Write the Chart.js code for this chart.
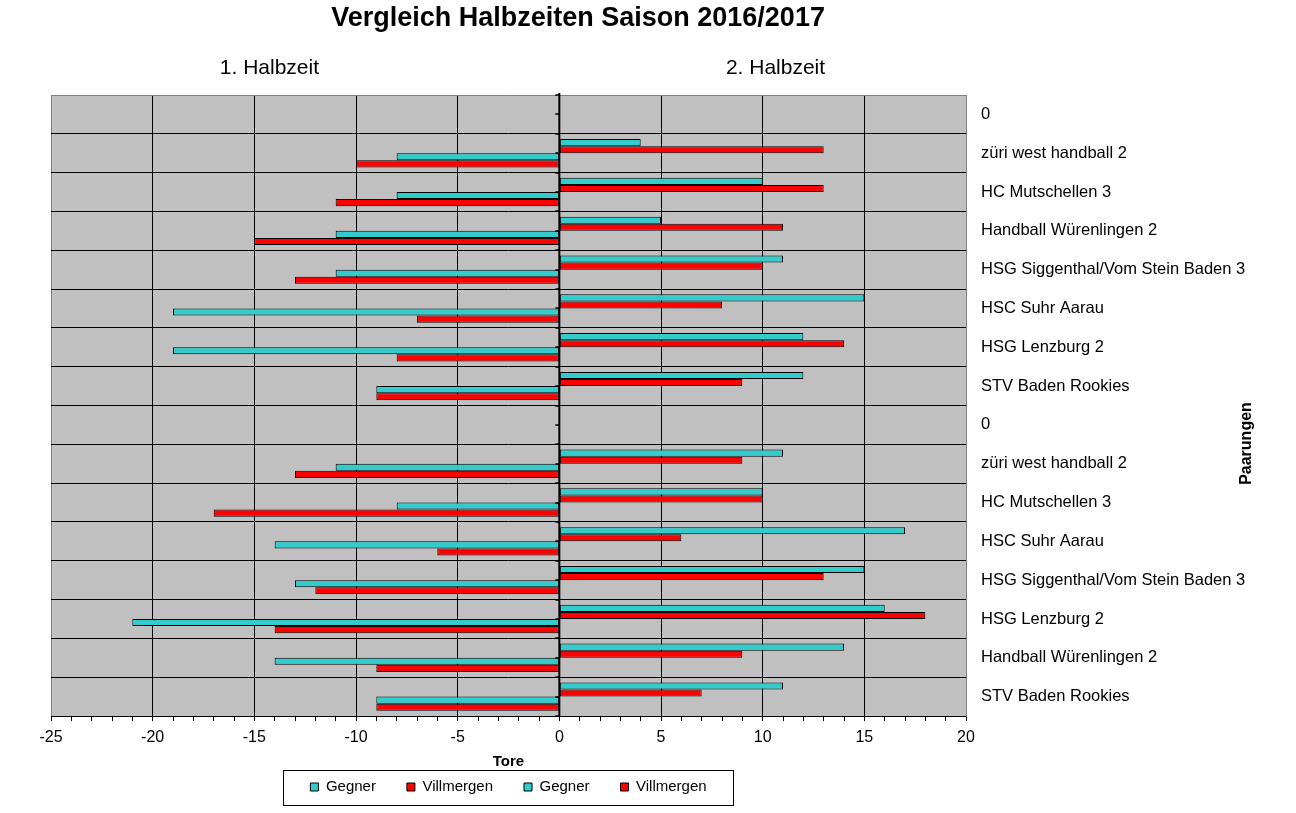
<!DOCTYPE html>
<html>
<head>
<meta charset="utf-8">
<script src="https://cdn.jsdelivr.net/npm/chart.js@4"></script>
<style>
  html, body { margin: 0; padding: 0; background: #ffffff; }
  #wrap { width: 1296px; height: 813px; position: relative; }
</style>
</head>
<body>
<div id="wrap"><canvas id="c"></canvas></div>
<script>
const chartTitle = 'Vergleich Halbzeiten Saison 2016/2017';
const halfTitles = ['1. Halbzeit', '2. Halbzeit'];
const xAxisTitle = 'Tore';
const yAxisTitle = 'Paarungen';
const seriesNames = ['Gegner', 'Villmergen', 'Gegner', 'Villmergen'];

const categories = [
  '0', 'züri west handball 2', 'HC Mutschellen 3', 'Handball Würenlingen 2',
  'HSG Siggenthal/Vom Stein Baden 3', 'HSC Suhr Aarau', 'HSG Lenzburg 2', 'STV Baden Rookies',
  '0', 'züri west handball 2', 'HC Mutschellen 3', 'HSC Suhr Aarau',
  'HSG Siggenthal/Vom Stein Baden 3', 'HSG Lenzburg 2', 'Handball Würenlingen 2', 'STV Baden Rookies'
];
// 1. Halbzeit (negative side)
const gegner1     = [null, -8, -8, -11, -11, -19, -19, -9, null, -11, -8, -14, -13, -21, -14, -9];
const villmergen1 = [null, -10, -11, -15, -13, -7, -8, -9, null, -13, -17, -6, -12, -14, -9, -9];
// 2. Halbzeit (positive side)
const gegner2     = [null, 4, 10, 5, 11, 15, 12, 12, null, 11, 10, 17, 15, 16, 14, 11];
const villmergen2 = [null, 13, 13, 11, 10, 8, 14, 9, null, 9, 10, 6, 13, 18, 9, 7];

const xMin = -25, xMax = 20, xMajor = 5, xMinor = 1;

const CYAN = '#33CCCC';
const RED = '#FF0000';
const FONT = '"Liberation Sans", Arial, sans-serif';

const decorPlugin = {
  id: 'decor',
  beforeDraw(chart) {
    const {ctx, chartArea: a} = chart;
    ctx.save();
    ctx.fillStyle = '#C0C0C0';
    ctx.fillRect(a.left, a.top, a.right - a.left, a.bottom - a.top);
    ctx.restore();
  },
  afterDatasetsDraw(chart) {
    const {ctx, chartArea: a, scales} = chart;
    const x0 = scales.x.getPixelForValue(0);
    ctx.save();
    ctx.strokeStyle = '#000';
    ctx.lineWidth = 2;
    ctx.beginPath();
    ctx.moveTo(x0, a.top - 2);
    ctx.lineTo(x0, a.bottom);
    ctx.stroke();
    ctx.lineWidth = 1.5;
    const n = categories.length;
    for (let k = 0; k <= n * 2; k++) {
      const y = Math.round(scales.y.getPixelForValue(k / 2 - 0.5));
      ctx.beginPath();
      ctx.moveTo(x0 - 4, y);
      ctx.lineTo(x0, y);
      ctx.stroke();
    }
    ctx.restore();
  },
  afterDraw(chart) {
    const {ctx, chartArea: a} = chart;
    const w = a.right - a.left;
    ctx.save();
    ctx.fillStyle = '#000';
    ctx.textAlign = 'center';
    ctx.textBaseline = 'middle';
    // main title
    ctx.font = 'bold 27px ' + FONT;
    ctx.fillText(chartTitle, a.left + w * 0.576, 19);
    // half-time subtitles
    ctx.font = '21px ' + FONT;
    ctx.fillText(halfTitles[0], a.left + w * 0.2387, 68);
    ctx.fillText(halfTitles[1], a.left + w * 0.7918, 68);
    // right axis title, rotated
    ctx.font = 'bold 16px ' + FONT;
    ctx.translate(1247, (a.top + a.bottom) / 2 + 38);
    ctx.rotate(-Math.PI / 2);
    ctx.fillText(yAxisTitle, 0, 0);
    ctx.restore();
    // legend frame
    const hb = chart.legend && chart.legend.legendHitBoxes;
    if (hb && hb.length) {
      let l = Infinity, r = -Infinity, t = Infinity, b = -Infinity;
      hb.forEach(h => {
        l = Math.min(l, h.left); r = Math.max(r, h.left + h.width);
        t = Math.min(t, h.top); b = Math.max(b, h.top + h.height);
      });
      ctx.save();
      ctx.strokeStyle = '#000';
      ctx.lineWidth = 1;
      ctx.strokeRect(Math.round(l - 27) + 0.5, Math.round(t - 10) + 0.5, Math.round(r - l + 54), Math.round(b - t + 20));
      ctx.restore();
    }
  }
};

const mk = (label, data, color) => ({
  label, data,
  backgroundColor: color,
  borderColor: '#000',
  borderWidth: 1,
  borderSkipped: false,
  categoryPercentage: 0.73,
  barPercentage: 1.0
});

new Chart(document.getElementById('c'), {
  type: 'bar',
  data: {
    labels: categories,
    datasets: [
      mk(seriesNames[2], gegner2, CYAN),
      mk(seriesNames[3], villmergen2, RED),
      mk(seriesNames[0], gegner1, CYAN),
      mk(seriesNames[1], villmergen1, RED)
    ]
  },
  options: {
    indexAxis: 'y',
    responsive: true,
    maintainAspectRatio: false,
    animation: false,
    layout: { padding: { left: 51, right: 0, top: 95, bottom: 8.5 } },
    plugins: {
      title: { display: false },
      legend: {
        position: 'bottom',
        fullSize: false,
        labels: {
          color: '#000',
          font: { family: FONT, size: 15 },
          boxWidth: 8, boxHeight: 8,
          padding: 31
        }
      },
      tooltip: { enabled: false }
    },
    scales: {
      x: {
        type: 'linear',
        min: xMin, max: xMax,
        afterFit(s) { s.height = 32.5; },
        ticks: {
          stepSize: xMinor,
          autoSkip: false,
          maxTicksLimit: 200,
          maxRotation: 0,
          padding: 7,
          color: '#000',
          font: { family: FONT, size: 16 },
          callback: v => (v % xMajor === 0 ? String(v) : '')
        },
        grid: {
          drawOnChartArea: true,
          drawTicks: true,
          tickLength: 5,
          tickColor: '#000',
          color: c => {
            const v = c.tick ? c.tick.value : 0;
            if (v === xMin || v === xMax) return '#808080';
            return v % xMajor === 0 ? '#000' : 'rgba(0,0,0,0)';
          },
          lineWidth: 1
        },
        border: { display: true, color: '#000', width: 1 },
        title: {
          display: true, text: xAxisTitle, color: '#000',
          font: { family: FONT, size: 15, weight: 'bold' },
          padding: { top: 0, bottom: -22.5 }
        }
      },
      y: {
        type: 'category',
        position: 'right',
        afterFit(s) { s.width = 330; },
        ticks: {
          autoSkip: false,
          padding: 15,
          color: '#000',
          font: { family: FONT, size: 16.5 }
        },
        grid: {
          offset: true,
          drawTicks: false,
          color: c => (c.index === 0 ? '#808080' : '#000'),
          lineWidth: 1
        },
        border: { display: true, color: '#808080', width: 1 }
      }
    }
  },
  plugins: [decorPlugin]
});
</script>
</body>
</html>
